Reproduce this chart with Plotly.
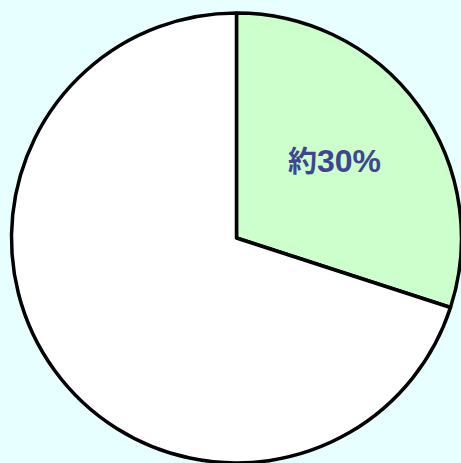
import plotly.graph_objects as go

labels = ["約30%", "その他"]
values = [30, 70]
colors = ["#CCFFCC", "#FFFFFF"]
label_kanji, label_num = "約", "30%"

W, H = 470, 470
cx, cy, r = 236.5, 238, 225

fig = go.Figure(go.Pie(
    labels=labels, values=values, sort=False, direction="clockwise", rotation=0,
    marker=dict(colors=colors, line=dict(color="black", width=3.5)),
    textinfo="none", hoverinfo="label+percent", showlegend=False,
    domain=dict(x=[(cx - r) / W, (cx + r) / W], y=[1 - (cy + r) / H, 1 - (cy - r) / H]),
))
fig.add_annotation(
    x=334 / W, y=1 - 161 / H, xref="paper", yref="paper", showarrow=False,
    xanchor="center", yanchor="middle",
    text=("<span style='font-size:29px'>" + label_kanji + "</span>"
          "<span style='font-size:32px'>" + label_num + "</span>"),
    font=dict(family="Liberation Sans, Noto Sans CJK JP", size=32, color="#3F4590", weight="bold"),
)
fig.update_layout(
    width=W, height=H, autosize=False,
    margin=dict(l=0, r=0, t=0, b=0),
    paper_bgcolor="#E8FFFF", plot_bgcolor="#E8FFFF",
)
fig.write_html("out.html", config={"displayModeBar": False},
               post_script="document.body.style.margin='0';document.body.style.overflow='hidden';document.body.style.background='#E8FFFF';")
